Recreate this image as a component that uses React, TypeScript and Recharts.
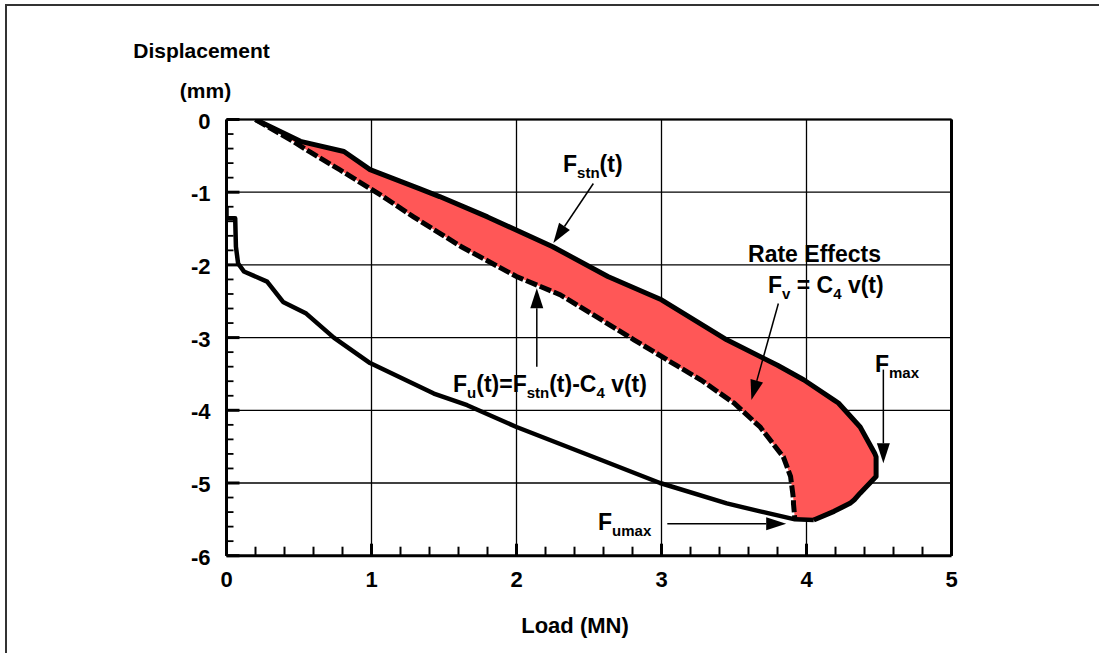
import React from 'react'
import { ComposedChart, Area, Line, XAxis, YAxis, CartesianGrid, ReferenceLine, ReferenceDot } from 'recharts'

// load (MN) on x, displacement (mm) on y
const loadTicks = [0, 0.2, 0.4, 0.6, 0.8, 1, 1.2, 1.4, 1.6, 1.8, 2, 2.2, 2.4, 2.6, 2.8, 3, 3.2, 3.4, 3.6, 3.8, 4, 4.2, 4.4, 4.6, 4.8, 5]
const dispTicks = [0, -0.2, -0.4, -0.6, -0.8, -1, -1.2, -1.4, -1.6, -1.8, -2, -2.2, -2.4, -2.6, -2.8, -3, -3.2, -3.4, -3.6, -3.8, -4, -4.2, -4.4, -4.6, -4.8, -5, -5.2, -5.4, -5.6, -5.8, -6]
const loadGrid = [0, 1, 2, 3, 4, 5]
const dispGrid = [0, -1, -2, -3, -4, -5, -6]

// rate effect band: lo = F_u(t) (dashed), hi = F_stn(t) (solid), read at the same displacement
const rateBand = [
  { y: 0, lo: 0.2, hi: 0.2 },
  { y: -0.3, lo: 0.46, hi: 0.51 },
  { y: -0.44, lo: 0.57, hi: 0.81 },
  { y: -0.69, lo: 0.78, hi: 0.99 },
  { y: -0.95, lo: 0.99, hi: 1.33 },
  { y: -1.06, lo: 1.08, hi: 1.47 },
  { y: -1.34, lo: 1.29, hi: 1.8 },
  { y: -1.75, lo: 1.62, hi: 2.25 },
  { y: -2.16, lo: 2.0, hi: 2.63 },
  { y: -2.41, lo: 2.3, hi: 2.92 },
  { y: -2.48, lo: 2.36, hi: 3.0 },
  { y: -3.03, lo: 2.81, hi: 3.45 },
  { y: -3.38, lo: 3.1, hi: 3.8 },
  { y: -3.58, lo: 3.27, hi: 3.98 },
  { y: -3.86, lo: 3.47, hi: 4.19 },
  { y: -3.9, lo: 3.5, hi: 4.22 },
  { y: -4.23, lo: 3.68, hi: 4.37 },
  { y: -4.59, lo: 3.82, hi: 4.47 },
  { y: -4.64, lo: 3.84, hi: 4.48 },
  { y: -4.91, lo: 3.89, hi: 4.48 },
  { y: -5.14, lo: 3.905, hi: 4.37 },
  { y: -5.23, lo: 3.91, hi: 4.33 },
  { y: -5.28, lo: 3.91, hi: 4.3 },
  { y: -5.39, lo: 3.915, hi: 4.19 },
  { y: -5.51, lo: 3.92, hi: 4.05 },
]

const unloading = [
  { x: 4.05, y: -5.51 }, { x: 3.92, y: -5.5 }, { x: 3.68, y: -5.39 }, { x: 3.45, y: -5.28 },
  { x: 2.99, y: -5.0 }, { x: 2.58, y: -4.68 }, { x: 2.0, y: -4.23 }, { x: 1.66, y: -3.93 },
  { x: 1.43, y: -3.77 }, { x: 0.99, y: -3.35 }, { x: 0.74, y: -3.0 }, { x: 0.55, y: -2.67 },
  { x: 0.39, y: -2.51 }, { x: 0.28, y: -2.23 }, { x: 0.12, y: -2.09 }, { x: 0.08, y: -1.98 },
  { x: 0.065, y: -1.75 }, { x: 0.06, y: -1.36 }, { x: 0.0, y: -1.36 }, { x: 0.0, y: -1.2 },
]

const arrows = [
  { from: { x: 2.53, y: -0.88 }, to: { x: 2.254, y: -1.7 } },
  { from: { x: 2.14, y: -3.4 }, to: { x: 2.14, y: -2.32 } },
  { from: { x: 3.806, y: -2.53 }, to: { x: 3.62, y: -3.86 } },
  { from: { x: 4.53, y: -3.44 }, to: { x: 4.53, y: -4.73 } },
  { from: { x: 3.04, y: -5.56 }, to: { x: 3.86, y: -5.56 } },
]

// [text, subscript?]
const notes: { x: number; y: number; parts: [string, boolean][] }[] = [
  { x: 2.321, y: -0.722, parts: [['F', false], ['stn', true], ['(t)', false]] },
  { x: 1.562, y: -3.748, parts: [['F', false], ['u', true], ['(t)=F', false], ['stn', true], ['(t)-C', false], ['4', true], [' v(t)', false]] },
  { x: 3.597, y: -1.96, parts: [['Rate Effects', false]] },
  { x: 3.734, y: -2.387, parts: [['F', false], ['v', true], [' = C', false], ['4', true], [' v(t)', false]] },
  { x: 4.472, y: -3.473, parts: [['F', false], ['max', true]] },
  { x: 2.562, y: -5.647, parts: [['F', false], ['umax', true]] },
]

const FONT = '"Liberation Sans", Arial, sans-serif'
const isMajor = (v: number) => Math.abs(v - Math.round(v)) < 1e-6

const LoadTick = (p: any) => (
  <text x={p.x} y={p.y + 31} textAnchor="middle" fontFamily={FONT} fontWeight="bold" fontSize={22} fill="#000">
    {Math.round(p.payload.value)}
  </text>
)

// tick mark on the bottom axis, pointing up into the plot
const LoadMark = (p: any) => {
  const { x1, y1, major } = p
  return (
    <path d={`M${x1},${y1}L${x1},${y1 - (major ? 12 : 9)}`} stroke="#000" strokeWidth={major ? 3 : 2} fill="none" />
  )
}

const DispTick = (p: any) => {
  const { x, y, payload } = p
  const major = isMajor(payload.value)
  return (
    <g>
      <path d={`M${x},${y}L${x + (major ? 13 : 7)},${y}`} stroke="#000" strokeWidth={major ? 3 : 1.8} fill="none" />
      {major && (
        <text x={x - 16} y={y + 9} textAnchor="end" fontFamily={FONT} fontWeight="bold" fontSize={22} fill="#000">
          {Math.round(payload.value)}
        </text>
      )}
    </g>
  )
}

const Arrow = (p: any) => {
  const { x1, y1, x2, y2 } = p
  const dx = x2 - x1
  const dy = y2 - y1
  const len = Math.sqrt(dx * dx + dy * dy) || 1
  const ux = dx / len
  const uy = dy / len
  const hl = 20
  const hw = 6.5
  const bx = x2 - ux * hl
  const by = y2 - uy * hl
  const pts = `${x2},${y2} ${bx - uy * hw},${by + ux * hw} ${bx + uy * hw},${by - ux * hw}`
  return (
    <g>
      <line x1={x1} y1={y1} x2={bx} y2={by} stroke="#000" strokeWidth={1.5} />
      <polygon points={pts} fill="#000" />
    </g>
  )
}

const noteShape = (parts: [string, boolean][]) => (p: any) => {
  let shift = 0
  return (
    <text x={p.cx} y={p.cy} fontFamily={FONT} fontWeight="bold" fontSize={23} fill="#000">
      {parts.map(([t, sub], i) => {
        const dy = (sub ? 6 : 0) - shift
        shift = sub ? 6 : 0
        return (
          <tspan key={i} dy={dy} fontSize={sub ? 15 : 23} style={{ whiteSpace: 'pre' }}>
            {t}
          </tspan>
        )
      })}
    </text>
  )
}

const LoadTitle = ({ viewBox }: any) => (
  <text x={viewBox.x + viewBox.width / 2 - 14} y={viewBox.y + 77} textAnchor="middle" fontFamily={FONT} fontWeight="bold" fontSize={22} fill="#000">
    Load (MN)
  </text>
)

const DispTitle = ({ viewBox }: any) => {
  const cx = viewBox.x + viewBox.width - 25
  return (
    <g fontFamily={FONT} fontWeight="bold" fontSize={21} fill="#000">
      <text x={cx} y={viewBox.y - 62} textAnchor="middle">Displacement</text>
      <text x={cx + 4} y={viewBox.y - 22} textAnchor="middle">(mm)</text>
    </g>
  )
}

export default function App() {
  return (
    <div style={{ position: 'absolute', left: 0, top: 0, width: 1099, height: 653, background: '#fff' }}>
      <div style={{ position: 'absolute', left: 5, top: 4, width: 1200, height: 800, borderLeft: '2px solid #333', borderTop: '2px solid #333' }} />
      <div style={{ position: 'absolute', left: 0, top: 0 }}>
        <ComposedChart
          width={1099}
          height={653}
          layout="vertical"
          margin={{ top: 119.5, right: 147.5, left: 166.5, bottom: 37.3 }}
        >
          <CartesianGrid stroke="#000" strokeWidth={1.3} horizontalValues={dispGrid} verticalValues={loadGrid} />
          <XAxis
            type="number"
            domain={[0, 5]}
            ticks={loadGrid}
            interval={0}
            allowDataOverflow
            height={60}
            tickSize={0}
            tickMargin={0}
            tick={LoadTick}
            axisLine={{ stroke: '#000', strokeWidth: 3 }}
            label={<LoadTitle />}
          />
          <YAxis
            type="number"
            dataKey="y"
            domain={[-6, 0]}
            reversed
            ticks={dispTicks}
            interval={0}
            allowDataOverflow
            width={60}
            tickSize={0}
            tickMargin={0}
            tick={DispTick}
            axisLine={{ stroke: '#000', strokeWidth: 3 }}
            label={<DispTitle />}
          />
          <ReferenceLine y={0} stroke="#000" strokeWidth={2} />
          <ReferenceLine x={5} stroke="#000" strokeWidth={3} />
          <Area
            data={rateBand}
            dataKey={(d: any) => [d.lo, d.hi]}
            type="linear"
            stroke="none"
            fill="#ff5757"
            fillOpacity={1}
            isAnimationActive={false}
          />
          <Line data={rateBand} dataKey="hi" type="linear" stroke="#000" strokeWidth={5} strokeLinejoin="round" dot={false} isAnimationActive={false} />
          <Line data={rateBand} dataKey="lo" type="linear" stroke="#000" strokeWidth={5} strokeDasharray="12 3" dot={false} isAnimationActive={false} />
          <Line data={unloading} dataKey="x" type="linear" stroke="#000" strokeWidth={4.5} strokeLinejoin="round" dot={false} isAnimationActive={false} />
          {loadTicks.map((v) => (
            <ReferenceLine
              key={`t${v}`}
              segment={[{ x: v, y: -6 }, { x: v, y: -5.9 }]}
              ifOverflow="visible"
              shape={(p: any) => <LoadMark {...p} major={isMajor(v)} />}
            />
          ))}
          {arrows.map((a, i) => (
            <ReferenceLine key={i} segment={[a.from, a.to]} shape={Arrow} />
          ))}
          {notes.map((n, i) => (
            <ReferenceDot key={i} x={n.x} y={n.y} r={0} shape={noteShape(n.parts)} />
          ))}
        </ComposedChart>
      </div>
    </div>
  )
}
